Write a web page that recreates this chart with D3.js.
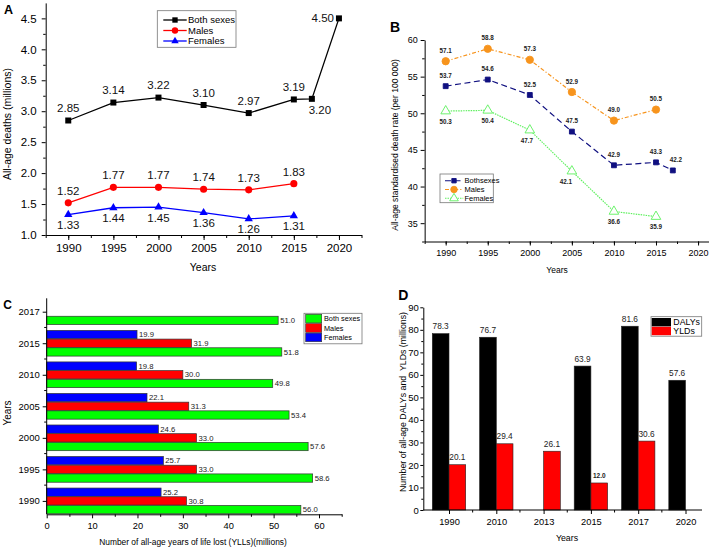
<!DOCTYPE html>
<html><head><meta charset="utf-8">
<script src="https://cdn.jsdelivr.net/npm/d3@7"></script>
<style>
body{margin:0;background:#fff;}
svg{display:block;font-family:"Liberation Sans",Arial,sans-serif;}
.axis path,.axis line{stroke:#000;stroke-width:1;}
.axis text{fill:#000;}
</style></head>
<body>
<svg id="chart" width="709" height="548"></svg>
<script>
// ---------- Panel A: all-age deaths (millions) ----------
const yearsA = [1990, 1995, 2000, 2005, 2010, 2015, 2017, 2020];
const bothA = [2.85, 3.14, 3.22, 3.10, 2.97, 3.19, 3.20, 4.50];
const yearsSexA = [1990, 1995, 2000, 2005, 2010, 2015];
const malesA = [1.52, 1.77, 1.77, 1.74, 1.73, 1.83];
const femalesA = [1.33, 1.44, 1.45, 1.36, 1.26, 1.31];
const yTicksA = [1.0, 1.5, 2.0, 2.5, 3.0, 3.5, 4.0, 4.5];
const xTicksA = [1990, 1995, 2000, 2005, 2010, 2015, 2020];

// ---------- Panel B: age-standardised death rate ----------
const yearsB = [1990, 1995, 2000, 2005, 2010, 2015, 2017];
const bothB = [53.7, 54.6, 52.5, 47.5, 42.9, 43.3, 42.2];
const yearsSexB = [1990, 1995, 2000, 2005, 2010, 2015];
const malesB = [57.1, 58.8, 57.3, 52.9, 49.0, 50.5];
const femalesB = [50.3, 50.4, 47.7, 42.1, 36.6, 35.9];
const yTicksB = [35, 40, 45, 50, 55, 60];
const xTicksB = [1990, 1995, 2000, 2005, 2010, 2015, 2020];

// ---------- Panel C: YLLs (millions) ----------
const yearsC = ["1990", "1995", "2000", "2005", "2010", "2015", "2017"];
const bothC = [56.0, 58.6, 57.6, 53.4, 49.8, 51.8, 51.0];
const malesC = [30.8, 33.0, 33.0, 31.3, 30.0, 31.9, null];
const femalesC = [25.2, 25.7, 24.6, 22.1, 19.8, 19.9, null];
const xTicksC = [0, 10, 20, 30, 40, 50, 60];

// ---------- Panel D: DALYs and YLDs (millions) ----------
const yearsD = ["1990", "2010", "2013", "2015", "2017", "2020"];
const dalysD = [78.3, 76.7, null, 63.9, 81.6, 57.6];
const yldsD = [20.1, 29.4, 26.1, 12.0, 30.6, null];
const yTicksD = [0, 10, 20, 30, 40, 50, 60, 70, 80, 90];

const svg = d3.select("#chart");
svg.append("rect").attr("width", 709).attr("height", 548).attr("fill", "#fff");

function minorAxis(g, axisFn, scale, values, size) {
  g.append("g").attr("class", "axis").call(axisFn(scale).tickValues(values).tickSize(size).tickFormat("").tickSizeOuter(0))
    .select(".domain").remove();
}
function styleTicks(sel, fs) { sel.selectAll("text").attr("font-size", fs); }

// ================= PANEL A =================
(function () {
  const g = svg.append("g");
  const x = d3.scaleLinear().domain([1987.5, 2022.5]).range([45.7, 361.5]);
  const y = d3.scaleLinear().domain([1, 4.75]).range([235, 2.9]);
  const fs = 11.5;
  const xa = g.append("g").attr("class", "axis").attr("transform", "translate(0,235)")
    .call(d3.axisBottom(x).tickValues(xTicksA).tickFormat(d3.format("d")).tickSize(5).tickPadding(4).tickSizeOuter(0));
  styleTicks(xa, fs);
  minorAxis(g.append("g").attr("transform", "translate(0,235)"), d3.axisBottom, x, d3.range(1987.5, 2023, 2.5), 3);
  const ya = g.append("g").attr("class", "axis").attr("transform", "translate(45.7,0)")
    .call(d3.axisLeft(y).tickValues(yTicksA).tickFormat(d3.format(".1f")).tickSize(4).tickPadding(5).tickSizeOuter(0));
  styleTicks(ya, fs);
  minorAxis(g.append("g").attr("transform", "translate(45.7,0)"), d3.axisLeft, y, d3.range(1.25, 4.75, 0.5), 2.5);

  const line = d3.line().x(d => x(d[0])).y(d => y(d[1]));
  const series = [
    {name: "Both sexes", years: yearsA, vals: bothA, color: "#000", sym: d3.symbolSquare, size: 36, off: -12.5},
    {name: "Males", years: yearsSexA, vals: malesA, color: "#ff0000", sym: d3.symbolCircle, size: 40, off: -12},
    {name: "Females", years: yearsSexA, vals: femalesA, color: "#0000ff", sym: d3.symbolTriangle, size: 30, off: 10.5}
  ];
  series.forEach(s => {
    const pts = s.years.map((yr, i) => [yr, s.vals[i]]);
    g.append("path").attr("d", line(pts)).attr("fill", "none").attr("stroke", s.color).attr("stroke-width", 1.3);
    g.selectAll(null).data(pts).enter().append("path")
      .attr("d", d3.symbol().type(s.sym).size(s.size))
      .attr("transform", d => `translate(${x(d[0])},${y(d[1])})`).attr("fill", s.color);
    g.selectAll(null).data(pts).enter().append("text")
      .attr("font-size", fs).attr("fill", "#111")
      .attr("text-anchor", d => d[0] === 2020 ? "end" : "middle")
      .attr("x", d => x(d[0]) + (d[0] === 2017 ? 8 : d[0] === 2020 ? -5 : 0))
      .attr("y", d => y(d[1]) + (d[0] === 2020 ? 0 : (d[0] === 2017 ? 11 : s.off)) + 4)
      .text(d => d3.format(".2f")(d[1]));
  });
  // legend
  const lg = g.append("g");
  lg.append("rect").attr("x", 157.3).attr("y", 10.7).attr("width", 78.7).attr("height", 36.6)
    .attr("fill", "#fff").attr("stroke", "#777").attr("stroke-width", 0.8);
  series.forEach((s, i) => {
    const cy = 20 + i * 10.5;
    lg.append("line").attr("x1", 163.3).attr("x2", 186.7).attr("y1", cy).attr("y2", cy).attr("stroke", s.color).attr("stroke-width", 1.3);
    lg.append("path").attr("d", d3.symbol().type(s.sym).size(s.size * 0.8)).attr("transform", `translate(175,${cy})`).attr("fill", s.color);
    lg.append("text").attr("x", 188).attr("y", cy + 3.3).attr("font-size", 9.5).text(s.name);
  });
  g.append("text").attr("x", 4).attr("y", 13.5).attr("font-size", 12.5).attr("font-weight", "bold").text("A");
  g.append("text").attr("transform", "translate(11,124) rotate(-90)").attr("text-anchor", "middle").attr("font-size", 10.5).text("All-age deaths (millions)");
  g.append("text").attr("x", 203).attr("y", 271).attr("text-anchor", "middle").attr("font-size", 10.5).text("Years");
})();

// ================= PANEL B =================
(function () {
  const g = svg.append("g");
  const x = d3.scaleLinear().domain([1987.5, 2021.3]).range([424.65, 709]);
  const y = d3.scaleLinear().domain([32.5, 60]).range([241.5, 40]);
  const fs = 9;
  const xa = g.append("g").attr("class", "axis").attr("transform", "translate(0,241.5)")
    .call(d3.axisBottom(x).tickValues(xTicksB).tickFormat(d3.format("d")).tickSize(4).tickPadding(4).tickSizeOuter(0));
  styleTicks(xa, fs);
  minorAxis(g.append("g").attr("transform", "translate(0,241.5)"), d3.axisBottom, x, d3.range(1987.5, 2021, 2.5), 2.5);
  const ya = g.append("g").attr("class", "axis").attr("transform", "translate(424.65,0)")
    .call(d3.axisLeft(y).tickValues(yTicksB).tickSize(4).tickPadding(3).tickSizeOuter(0));
  styleTicks(ya, fs);
  minorAxis(g.append("g").attr("transform", "translate(424.65,0)"), d3.axisLeft, y, d3.range(32.5, 60, 5), 2.5);

  const line = d3.line().x(d => x(d[0])).y(d => y(d[1]));
  const series = [
    {name: "Bothsexes", years: yearsB, vals: bothB, color: "#101080", dash: "6,3.5", sym: d3.symbolSquare, size: 24, fill: "#101080", pos: -1},
    {name: "Males", years: yearsSexB, vals: malesB, color: "#f7941d", dash: "4,2,1.2,2", sym: d3.symbolCircle, size: 42, fill: "#f7941d", pos: -1},
    {name: "Females", years: yearsSexB, vals: femalesB, color: "#5ef05e", dash: "1.5,1", sym: d3.symbolTriangle, size: 40, fill: "#fff", pos: 1}
  ];
  series.forEach(s => {
    const pts = s.years.map((yr, i) => [yr, s.vals[i]]);
    g.append("path").attr("d", line(pts)).attr("fill", "none").attr("stroke", s.color).attr("stroke-width", 1.2).attr("stroke-dasharray", s.dash);
    g.selectAll(null).data(pts).enter().append("path")
      .attr("d", d3.symbol().type(s.sym).size(s.size))
      .attr("transform", d => `translate(${x(d[0])},${y(d[1])})`)
      .attr("fill", s.fill).attr("stroke", s.color).attr("stroke-width", 0.9);
    g.selectAll(null).data(pts).enter().append("text")
      .attr("font-size", 6.3).attr("font-weight", "bold").attr("fill", "#222").attr("text-anchor", "middle")
      .attr("x", d => x(d[0]) + (s.pos > 0 && d[0] === 2005 ? -6 : s.pos > 0 && d[0] === 2000 ? -3 : d[0] === 2017 ? 3 : 0))
      .attr("y", d => y(d[1]) + 10.5 * s.pos + 2.2)
      .text(d => d3.format(".1f")(d[1]));
  });
  const lg = g.append("g");
  lg.append("rect").attr("x", 440).attr("y", 174).attr("width", 53.3).attr("height", 28.7)
    .attr("fill", "#fff").attr("stroke", "#777").attr("stroke-width", 0.8);
  series.forEach((s, i) => {
    const cy = 180.7 + i * 8.8;
    lg.append("line").attr("x1", 445).attr("x2", 463.3).attr("y1", cy).attr("y2", cy).attr("stroke", s.color).attr("stroke-width", 1.1).attr("stroke-dasharray", s.dash);
    lg.append("path").attr("d", d3.symbol().type(s.sym).size(s.size * 0.8)).attr("transform", `translate(454,${cy})`)
      .attr("fill", s.fill).attr("stroke", s.color).attr("stroke-width", 0.9);
    lg.append("text").attr("x", 464.5).attr("y", cy + 2.6).attr("font-size", 7.5).text(s.name);
  });
  g.append("text").attr("x", 390).attr("y", 31.7).attr("font-size", 14).attr("font-weight", "bold").text("B");
  g.append("text").attr("transform", "translate(398,145) rotate(-90)").attr("text-anchor", "middle").attr("font-size", 8.5).text("All-age standardised death rate (per 100 000)");
  g.append("text").attr("x", 557).attr("y", 272.5).attr("text-anchor", "middle").attr("font-size", 8.5).text("Years");
})();

// ================= PANEL C =================
(function () {
  const g = svg.append("g");
  const x = d3.scaleLinear().domain([0, 65]).range([46.7, 341.7]);
  const y = d3.scalePoint().domain(yearsC.slice().reverse()).range([298.3, 514.3]).padding(0.425);
  const sub = ["Females", "Males", "Both sexes"];
  const colors = {"Both sexes": "#00ff00", "Males": "#ff0000", "Females": "#0000ff"};
  const vals = {"Both sexes": bothC, "Males": malesC, "Females": femalesC};
  const slot = 8.7, bh = 8.3;
  const rows = [];
  yearsC.forEach((yr, i) => sub.forEach((s, j) => { if (vals[s][i] != null) rows.push({yr, s, j, v: vals[s][i]}); }));
  g.selectAll(null).data(rows).enter().append("rect")
    .attr("x", x(0)).attr("y", d => y(d.yr) - 1.5 * slot + d.j * slot + (slot - bh) / 2)
    .attr("width", d => x(d.v) - x(0)).attr("height", bh)
    .attr("fill", d => colors[d.s]).attr("stroke", "#333").attr("stroke-width", 0.7);
  g.selectAll(null).data(rows).enter().append("text")
    .attr("x", d => x(d.v) + 2).attr("y", d => y(d.yr) - 1.5 * slot + d.j * slot + slot / 2 + 2.7)
    .attr("font-size", 7.7).attr("fill", "#222").text(d => d3.format(".1f")(d.v));

  const xa = g.append("g").attr("class", "axis").attr("transform", "translate(0,514.3)")
    .call(d3.axisBottom(x).tickValues(xTicksC).tickSize(4).tickPadding(4).tickSizeOuter(0));
  styleTicks(xa, 9.3);
  minorAxis(g.append("g").attr("transform", "translate(0,514.3)"), d3.axisBottom, x, [5, 15, 25, 35, 45, 55, 65], 2.5);
  const ya = g.append("g").attr("class", "axis").attr("transform", "translate(46.7,0)")
    .call(d3.axisLeft(y).tickSize(4).tickPadding(3).tickSizeOuter(0));
  ya.select(".domain").attr("d", "M0,298.3V514.3");
  styleTicks(ya, 9.5);
  const mids = d3.range(yearsC.length - 1).map(i => (y(yearsC[i]) + y(yearsC[i + 1])) / 2);
  g.append("g").selectAll(null).data(mids).enter().append("line")
    .attr("x1", 46.7).attr("x2", 44.2).attr("y1", d => d).attr("y2", d => d).attr("stroke", "#000");

  const lg = g.append("g");
  const order = ["Both sexes", "Males", "Females"];
  lg.append("rect").attr("x", 304).attr("y", 313.3).attr("width", 58).attr("height", 30.5)
    .attr("fill", "#fff").attr("stroke", "#777").attr("stroke-width", 0.8);
  order.forEach((s, i) => {
    const top = 314.3 + i * 9.4;
    lg.append("rect").attr("x", 305.7).attr("y", top).attr("width", 16).attr("height", 8.6)
      .attr("fill", colors[s]).attr("stroke", "#333").attr("stroke-width", 0.6);
    lg.append("text").attr("x", 324).attr("y", top + 7).attr("font-size", 7.3).text(s);
  });
  g.append("text").attr("x", 3.3).attr("y", 308.5).attr("font-size", 12).attr("font-weight", "bold").text("C");
  g.append("text").attr("transform", "translate(10.5,413) rotate(-90)").attr("text-anchor", "middle").attr("font-size", 10).text("Years");
  g.append("text").attr("x", 193).attr("y", 544.5).attr("text-anchor", "middle").attr("font-size", 8.4).text("Number of all-age years of life lost (YLLs)(millions)");
})();

// ================= PANEL D =================
(function () {
  const g = svg.append("g");
  const x = d3.scalePoint().domain(yearsD).range([449, 685.5]);
  const step = x.step();
  const y = d3.scaleLinear().domain([0, 90]).range([510, 307.3]);
  const bw = 16.7;
  const rows = [];
  yearsD.forEach((yr, i) => {
    if (dalysD[i] != null) rows.push({yr, k: "DALYs", off: -bw, v: dalysD[i]});
    if (yldsD[i] != null) rows.push({yr, k: "YLDs", off: 0, v: yldsD[i]});
  });
  const colors = {DALYs: "#000", YLDs: "#ff0000"};
  g.selectAll(null).data(rows).enter().append("rect")
    .attr("x", d => x(d.yr) + d.off).attr("y", d => y(d.v))
    .attr("width", bw).attr("height", d => y(0) - y(d.v))
    .attr("fill", d => colors[d.k]).attr("stroke", "#222").attr("stroke-width", 0.6);
  g.selectAll(null).data(rows).enter().append("text")
    .attr("x", d => x(d.yr) + d.off + bw / 2).attr("y", d => y(d.v) - 4.5)
    .attr("text-anchor", "middle").attr("font-size", d => d.v === 12.0 ? 6.5 : 8.3)
    .attr("font-weight", d => d.v === 12.0 ? "bold" : "normal").attr("fill", "#222")
    .text(d => d3.format(".1f")(d.v));

  const xa = g.append("g").attr("class", "axis").attr("transform", "translate(0,510)")
    .call(d3.axisBottom(x).tickSize(4).tickPadding(4).tickSizeOuter(0));
  xa.select(".domain").attr("d", "M423.3,0H702");
  styleTicks(xa, 9.3);
  const mids = d3.range(yearsD.length - 1).map(i => x(yearsD[i]) + step / 2);
  g.append("g").selectAll(null).data(mids).enter().append("line")
    .attr("x1", d => d).attr("x2", d => d).attr("y1", 510).attr("y2", 512.5).attr("stroke", "#000");
  const ya = g.append("g").attr("class", "axis").attr("transform", "translate(423.3,0)")
    .call(d3.axisLeft(y).tickValues(yTicksD).tickSize(3).tickPadding(1.5).tickSizeOuter(0));
  styleTicks(ya, 9.5);
  minorAxis(g.append("g").attr("transform", "translate(423.3,0)"), d3.axisLeft, y, d3.range(5, 90, 10), 2);

  const lg = g.append("g");
  lg.append("rect").attr("x", 651).attr("y", 316.7).attr("width", 50.7).attr("height", 19.5)
    .attr("fill", "#fff").attr("stroke", "#777").attr("stroke-width", 0.8);
  ["DALYs", "YLDs"].forEach((k, i) => {
    const top = 318 + i * 8.8;
    lg.append("rect").attr("x", 651.7).attr("y", top).attr("width", 19.3).attr("height", 8.4).attr("fill", colors[k]);
    lg.append("text").attr("x", 673.3).attr("y", top + 7.2).attr("font-size", 8.8).text(k);
  });
  g.append("text").attr("x", 398.3).attr("y", 300).attr("font-size", 14).attr("font-weight", "bold").text("D");
  g.append("text").attr("transform", "translate(405.5,402) rotate(-90)").attr("text-anchor", "middle").attr("font-size", 8.8).style("white-space", "pre").text("Number of all-age DALYs and  YLDs (millions)");
  g.append("text").attr("x", 567).attr("y", 541).attr("text-anchor", "middle").attr("font-size", 8.8).text("Years");
})();
</script>
</body></html>
